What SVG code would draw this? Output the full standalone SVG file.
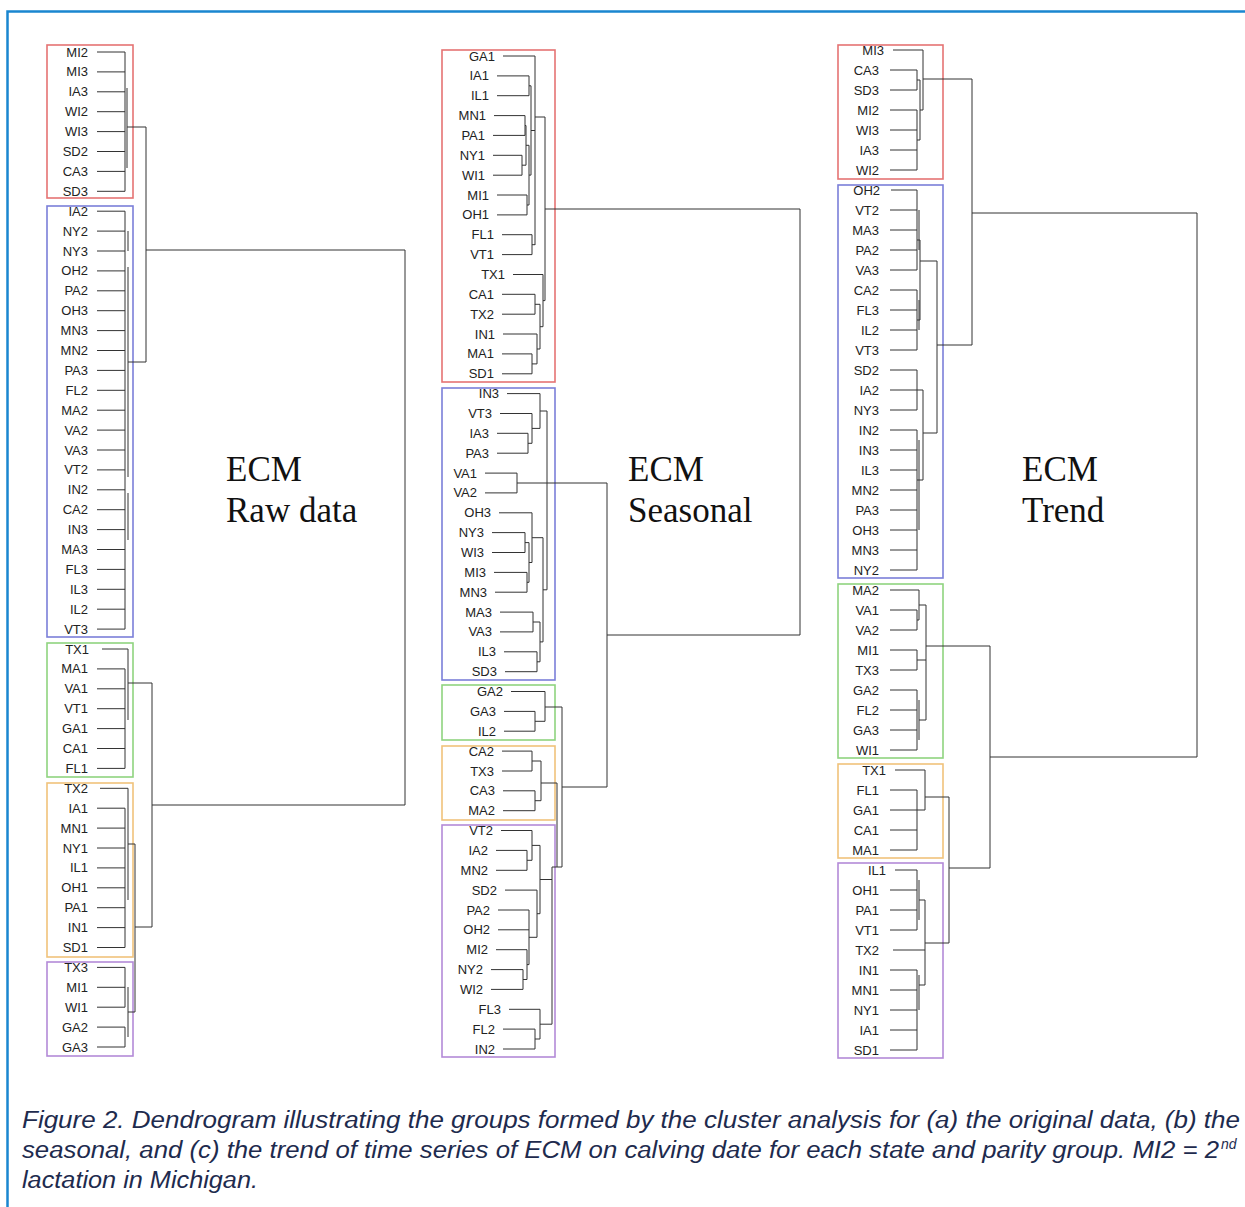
<svg xmlns="http://www.w3.org/2000/svg" width="1245" height="1207" viewBox="0 0 1245 1207">
<style>
.lb{font-family:"Liberation Sans",Arial,sans-serif;font-size:13px;fill:#222;text-anchor:end}
.ttl{font-family:"Liberation Serif","Times New Roman",serif;font-size:35px;fill:#111}
.cap{font-family:"Liberation Sans",Arial,sans-serif;font-style:italic;font-size:23px;fill:#1e2b4e}
.ln{fill:none;stroke:#333;stroke-width:1}
.bx{fill:none;stroke-width:1.6}
.red{stroke:#e57373}.blue{stroke:#7b7fd9}.green{stroke:#8fd47f}.orange{stroke:#f0c27b}.purple{stroke:#b38ad8}
</style>
<rect width="1245" height="1207" fill="#fff"/>
<path d="M7.5 1210V11.5H1250" fill="none" stroke="#1a86d0" stroke-width="2.5"/>

<!-- Panel a -->
<g id="a-red">
<rect class="bx red" x="47" y="45" width="86" height="153"/>
<text class="lb" x="88" y="56.5">MI2</text><text class="lb" x="88" y="76.4">MI3</text><text class="lb" x="88" y="96.3">IA3</text><text class="lb" x="88" y="116.2">WI2</text><text class="lb" x="88" y="136.1">WI3</text><text class="lb" x="88" y="156">SD2</text><text class="lb" x="88" y="175.9">CA3</text><text class="lb" x="88" y="195.8">SD3</text>
</g>
<g id="a-blue">
<rect class="bx blue" x="47" y="206" width="86" height="431"/>
<text class="lb" x="88" y="215.7">IA2</text><text class="lb" x="88" y="235.6">NY2</text><text class="lb" x="88" y="255.5">NY3</text><text class="lb" x="88" y="275.4">OH2</text><text class="lb" x="88" y="295.3">PA2</text><text class="lb" x="88" y="315.2">OH3</text><text class="lb" x="88" y="335.1">MN3</text><text class="lb" x="88" y="355">MN2</text><text class="lb" x="88" y="374.9">PA3</text><text class="lb" x="88" y="394.8">FL2</text><text class="lb" x="88" y="414.7">MA2</text><text class="lb" x="88" y="434.6">VA2</text><text class="lb" x="88" y="454.5">VA3</text><text class="lb" x="88" y="474.4">VT2</text><text class="lb" x="88" y="494.3">IN2</text><text class="lb" x="88" y="514.2">CA2</text><text class="lb" x="88" y="534.1">IN3</text><text class="lb" x="88" y="554">MA3</text><text class="lb" x="88" y="573.9">FL3</text><text class="lb" x="88" y="593.8">IL3</text><text class="lb" x="88" y="613.7">IL2</text><text class="lb" x="88" y="633.6">VT3</text>
</g>
<g id="a-green">
<rect class="bx green" x="47" y="643" width="86" height="134"/>
<text class="lb" x="89" y="653.5">TX1</text><text class="lb" x="88" y="673.4">MA1</text><text class="lb" x="88" y="693.3">VA1</text><text class="lb" x="88" y="713.2">VT1</text><text class="lb" x="88" y="733.1">GA1</text><text class="lb" x="88" y="753">CA1</text><text class="lb" x="88" y="772.9">FL1</text>
</g>
<g id="a-orange">
<rect class="bx orange" x="47" y="783" width="86" height="174"/>
<text class="lb" x="88" y="792.8">TX2</text><text class="lb" x="88" y="812.7">IA1</text><text class="lb" x="88" y="832.6">MN1</text><text class="lb" x="88" y="852.5">NY1</text><text class="lb" x="88" y="872.4">IL1</text><text class="lb" x="88" y="892.3">OH1</text><text class="lb" x="88" y="912.2">PA1</text><text class="lb" x="88" y="932.1">IN1</text><text class="lb" x="88" y="952">SD1</text>
</g>
<g id="a-purple">
<rect class="bx purple" x="47" y="962" width="86" height="94"/>
<text class="lb" x="88" y="971.9">TX3</text><text class="lb" x="88" y="991.8">MI1</text><text class="lb" x="88" y="1011.7">WI1</text><text class="lb" x="88" y="1031.6">GA2</text><text class="lb" x="88" y="1051.5">GA3</text>
</g>
<g id="a-title"><text class="ttl" x="226" y="481">ECM</text><text class="ttl" x="226" y="522">Raw data</text></g>

<!-- Panel b -->
<g id="b-red">
<rect class="bx red" x="442" y="50" width="113" height="332"/>
<text class="lb" x="495" y="60.5">GA1</text><text class="lb" x="489" y="80.4">IA1</text><text class="lb" x="489" y="100.2">IL1</text><text class="lb" x="486" y="120.1">MN1</text><text class="lb" x="485" y="139.9">PA1</text><text class="lb" x="485" y="159.8">NY1</text><text class="lb" x="485" y="179.7">WI1</text><text class="lb" x="489" y="199.5">MI1</text><text class="lb" x="489" y="219.4">OH1</text><text class="lb" x="494" y="239.2">FL1</text><text class="lb" x="494" y="259.1">VT1</text><text class="lb" x="505" y="279">TX1</text><text class="lb" x="494" y="298.8">CA1</text><text class="lb" x="494" y="318.7">TX2</text><text class="lb" x="495" y="338.5">IN1</text><text class="lb" x="494" y="358.4">MA1</text><text class="lb" x="494" y="378.3">SD1</text>
</g>
<g id="b-blue">
<rect class="bx blue" x="442" y="388" width="113" height="292"/>
<text class="lb" x="499" y="398.1">IN3</text><text class="lb" x="492" y="418">VT3</text><text class="lb" x="489" y="437.8">IA3</text><text class="lb" x="489" y="457.7">PA3</text><text class="lb" x="477" y="477.6">VA1</text><text class="lb" x="477" y="497.4">VA2</text><text class="lb" x="491" y="517.3">OH3</text><text class="lb" x="484" y="537.1">NY3</text><text class="lb" x="484" y="557">WI3</text><text class="lb" x="486" y="576.9">MI3</text><text class="lb" x="487" y="596.7">MN3</text><text class="lb" x="492" y="616.6">MA3</text><text class="lb" x="492" y="636.4">VA3</text><text class="lb" x="496" y="656.3">IL3</text><text class="lb" x="497" y="676.2">SD3</text>
</g>
<g id="b-green">
<rect class="bx green" x="442" y="685" width="113" height="55"/>
<text class="lb" x="503" y="696">GA2</text><text class="lb" x="496" y="715.9">GA3</text><text class="lb" x="496" y="735.7">IL2</text>
</g>
<g id="b-orange">
<rect class="bx orange" x="442" y="746" width="113" height="74"/>
<text class="lb" x="494" y="755.6">CA2</text><text class="lb" x="494" y="775.5">TX3</text><text class="lb" x="495" y="795.3">CA3</text><text class="lb" x="495" y="815.2">MA2</text>
</g>
<g id="b-purple">
<rect class="bx purple" x="442" y="825" width="113" height="232"/>
<text class="lb" x="493" y="835">VT2</text><text class="lb" x="488" y="854.9">IA2</text><text class="lb" x="488" y="874.8">MN2</text><text class="lb" x="497" y="894.6">SD2</text><text class="lb" x="490" y="914.5">PA2</text><text class="lb" x="490" y="934.3">OH2</text><text class="lb" x="488" y="954.2">MI2</text><text class="lb" x="483" y="974.1">NY2</text><text class="lb" x="483" y="993.9">WI2</text><text class="lb" x="501" y="1013.8">FL3</text><text class="lb" x="495" y="1033.6">FL2</text><text class="lb" x="495" y="1053.5">IN2</text>
</g>
<g id="b-title"><text class="ttl" x="628" y="481">ECM</text><text class="ttl" x="628" y="522">Seasonal</text></g>

<!-- Panel c -->
<g id="c-red">
<rect class="bx red" x="838" y="45" width="105" height="134"/>
<text class="lb" x="884" y="54.5">MI3</text><text class="lb" x="879" y="74.5">CA3</text><text class="lb" x="879" y="94.5">SD3</text><text class="lb" x="879" y="114.5">MI2</text><text class="lb" x="879" y="134.5">WI3</text><text class="lb" x="879" y="154.5">IA3</text><text class="lb" x="879" y="174.5">WI2</text>
</g>
<g id="c-blue">
<rect class="bx blue" x="838" y="185" width="105" height="393"/>
<text class="lb" x="880" y="194.5">OH2</text><text class="lb" x="879" y="214.5">VT2</text><text class="lb" x="879" y="234.5">MA3</text><text class="lb" x="879" y="254.5">PA2</text><text class="lb" x="879" y="274.5">VA3</text><text class="lb" x="879" y="294.5">CA2</text><text class="lb" x="879" y="314.5">FL3</text><text class="lb" x="879" y="334.5">IL2</text><text class="lb" x="879" y="354.5">VT3</text><text class="lb" x="879" y="374.5">SD2</text><text class="lb" x="879" y="394.5">IA2</text><text class="lb" x="879" y="414.5">NY3</text><text class="lb" x="879" y="434.5">IN2</text><text class="lb" x="879" y="454.5">IN3</text><text class="lb" x="879" y="474.5">IL3</text><text class="lb" x="879" y="494.5">MN2</text><text class="lb" x="879" y="514.5">PA3</text><text class="lb" x="879" y="534.5">OH3</text><text class="lb" x="879" y="554.5">MN3</text><text class="lb" x="879" y="574.5">NY2</text>
</g>
<g id="c-green">
<rect class="bx green" x="838" y="584" width="105" height="174"/>
<text class="lb" x="879" y="594.5">MA2</text><text class="lb" x="879" y="614.5">VA1</text><text class="lb" x="879" y="634.5">VA2</text><text class="lb" x="879" y="654.5">MI1</text><text class="lb" x="879" y="674.5">TX3</text><text class="lb" x="879" y="694.5">GA2</text><text class="lb" x="879" y="714.5">FL2</text><text class="lb" x="879" y="734.5">GA3</text><text class="lb" x="879" y="754.5">WI1</text>
</g>
<g id="c-orange">
<rect class="bx orange" x="838" y="764" width="105" height="94"/>
<text class="lb" x="886" y="774.5">TX1</text><text class="lb" x="879" y="794.5">FL1</text><text class="lb" x="879" y="814.5">GA1</text><text class="lb" x="879" y="834.5">CA1</text><text class="lb" x="879" y="854.5">MA1</text>
</g>
<g id="c-purple">
<rect class="bx purple" x="838" y="863" width="105" height="195"/>
<text class="lb" x="886" y="874.5">IL1</text><text class="lb" x="879" y="894.5">OH1</text><text class="lb" x="879" y="914.5">PA1</text><text class="lb" x="879" y="934.5">VT1</text><text class="lb" x="879" y="954.5">TX2</text><text class="lb" x="879" y="974.5">IN1</text><text class="lb" x="879" y="994.5">MN1</text><text class="lb" x="879" y="1014.5">NY1</text><text class="lb" x="879" y="1034.5">IA1</text><text class="lb" x="879" y="1054.5">SD1</text>
</g>
<g id="c-title"><text class="ttl" x="1022" y="481">ECM</text><text class="ttl" x="1022" y="522">Trend</text></g>

<g id="connectors">
<!-- panel a leaves -->
<path class="ln" d="M97 52H125M97 71.9H125M97 91.8H125M97 111.7H125M97 131.6H125M97 151.5H125M97 171.4H125M97 191.3H125M97 211.2H125M97 231.1H125M97 251H125M97 270.9H125M97 290.8H125M97 310.7H125M97 330.6H125M97 350.5H125M97 370.4H125M97 390.3H125M97 410.2H125M97 430.1H125M97 450H125M97 469.9H125M97 489.8H125M97 509.7H125M97 529.6H125M97 549.5H125M97 569.4H125M97 589.3H125M97 609.2H125M97 629.1H125M102 649H128M97 668.9H125M97 688.8H125M97 708.7H125M97 728.6H125M97 748.5H125M97 768.4H125M100 788.3H128M97 808.2H125M97 828.1H125M97 848H125M97 867.9H125M97 887.8H125M97 907.7H125M97 927.6H125M97 947.5H125M97 967.4H125M97 987.3H125M97 1007.2H125M97 1027.1H125M97 1047H125"/>
<!-- panel a tree -->
<path class="ln" d="M125 52V191.3M127 88V168M127 127H146M125 211.2V629.1M128 231V251M128 267V477M128 493V540M128 362H146M146 127V362M146 250H405V805M152 805H405M125 668.9V768.4M128 649V720M128 683H152M125 808.2V947.5M128 788.3V900M128 844H135M125 967.4V1007.2M125 1027.1V1047M128 987V1037M128 1012H135M135 844V1012M135 927H152M152 683V927"/>
<!-- panel b leaves -->
<path class="ln" d="M503 56H535M497 75.9H529M497 95.7H529M494 115.6H525M493 135.4H525M493 155.3H522M493 175.2H522M497 195H527M497 214.9H527M502 234.7H532M502 254.6H532M513 274.5H543M502 294.3H535M502 314.2H535M503 334H537M502 353.9H532M502 373.8H532M507 393.6H540M500 413.5H532M497 433.3H528M497 453.2H528M485 473.1H517M485 492.9H517M499 512.8H532M492 532.6H525M492 552.5H525M494 572.4H527M495 592.2H527M500 612.1H533M500 631.9H533M504 651.8H537M505 671.7H537M511 691.5H545M504 711.4H535M504 731.2H535M502 751.1H532M502 771H532M503 790.8H535M503 810.7H535M501 830.5H532M496 850.4H527M496 870.3H527M505 890.1H537M498 910H529M498 929.8H529M496 949.7H527M491 969.6H523M491 989.4H523M509 1009.3H540M503 1029.1H535M503 1049H535"/>
<!-- panel b tree -->
<path class="ln" d="M535 56V245M525 115.6V135.4M522 155.3V175.2M525 125.5H526M522 165.2H526M526 125.5V165.2M527 195V214.9M529 75.9V95.7M526 145.3H529M527 205H529M529 145.3V205M529 85.8H531M529 175.1H531M531 85.8V175.1M531 130.5H535M532 234.7V254.6M532 244.7H535M535 117H545M535 294.3V314.2M532 353.9V373.8M532 363.9H537M537 334V363.9M535 304.3H540M537 349H540M540 304.3V349M540 326.7H543M543 274.5V326.7M543 300.6H545M545 117V300.6M545 209H800V635M607 635H800M528 433.3V453.2M528 443.3H532M532 413.5V443.3M532 428.4H540M540 393.6V428.4M540 411H547M517 473.1V492.9M517 483H607M525 532.6V552.5M527 572.4V592.2M525 542.6H529M527 582.3H529M529 542.6V582.3M529 562.5H532M532 512.8V562.5M532 537.7H543M533 612.1V631.9M537 651.8V671.7M533 622H540M537 661.8H540M540 622V661.8M540 641.9H543M543 537.7V641.9M543 589.8H547M547 411V589.8M535 711.4V731.2M535 721.3H545M545 691.5V721.3M545 707H562M532 751.1V771M535 790.8V810.7M532 761H541M535 800.7H541M541 761V800.7M541 783H557M527 850.4V870.3M527 860.3H532M532 830.5V860.3M532 845.4H540M523 969.6V989.4M523 979.5H527M527 949.7V979.5M527 964.6H529M529 910V964.6M529 937.3H537M537 890.1V937.3M537 913.7H540M540 845.4V913.7M540 879.5H552M535 1029.1V1049M535 1039H540M540 1009.3V1039M540 1024.2H552M552 867V1024.2M552 867H562M557 783V867M562 707V867M562 787H607M607 483V787"/>
<!-- panel c leaves -->
<path class="ln" d="M893 50H923M890 70H917M890 90H917M890 110H917M890 130H917M890 150H917M890 170H917M891 190H917M890 210H917M890 230H917M890 250H917M890 270H917M890 290H917M890 310H917M890 330H917M890 350H917M890 370H917M890 390H917M890 410H917M890 430H917M890 450H917M890 470H917M890 490H917M890 510H917M890 530H917M890 550H917M890 570H917M890 590H919M890 610H917M890 630H917M890 650H917M890 670H917M890 690H917M890 710H917M890 730H917M890 750H917M895 770H925M890 790H917M890 810H917M890 830H917M890 850H917M895 870H917M890 890H917M890 910H917M890 930H917M893 950H925M890 970H917M890 990H917M890 1010H917M890 1030H917M890 1050H917"/>
<!-- panel c tree -->
<path class="ln" d="M917 70V90M917 110V170M917 80H920M917 140H920M920 80V140M920 110H923M923 50V110M923 79H972M972 79V345M972 213H1197V757M990 757H1197M917 190V270M919 210V250M917 290V350M919 300V330M917 240H920M917 320H920M920 240V320M920 261H937M917 370V410M917 430V570M919 440V530M917 390H923M917 480H923M923 390V480M923 433H937M937 261V433M937 345H972M917 610V630M917 620H919M919 590V620M919 605H926M917 650V670M917 660H926M917 690V750M919 700V740M919 720H926M926 605V720M926 646H990M917 790V850M917 810H925M925 770V810M925 797H949M917 870V930M919 880V920M919 900H925M917 970V1050M919 975V1010M919 985H925M925 900V985M925 943H949M949 797V943M949 868H990M990 646V868"/>
</g>

<g id="caption">
<text class="cap" x="22" y="1128" textLength="1218" lengthAdjust="spacingAndGlyphs">Figure 2. Dendrogram illustrating the groups formed by the cluster analysis for (a) the original data, (b) the</text>
<text class="cap" x="22" y="1158" textLength="1197" lengthAdjust="spacingAndGlyphs">seasonal, and (c) the trend of time series of ECM on calving date for each state and parity group. MI2 = 2</text>
<text class="cap" x="1221" y="1149" style="font-size:14px">nd</text>
<text class="cap" x="22" y="1188" textLength="236" lengthAdjust="spacingAndGlyphs">lactation in Michigan.</text>
</g>
</svg>
